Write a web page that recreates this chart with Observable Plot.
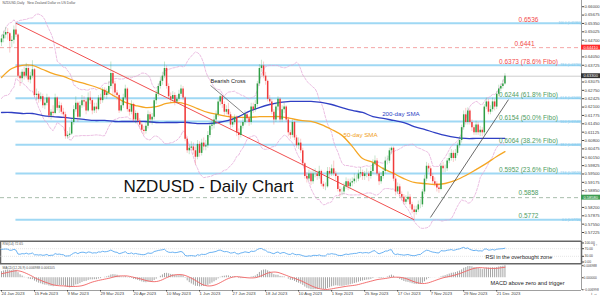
<!DOCTYPE html>
<html><head><meta charset="utf-8">
<script src="https://cdn.jsdelivr.net/npm/d3@7"></script>
<script src="https://cdn.jsdelivr.net/npm/@observablehq/plot@0.6"></script>
<style>
html,body{margin:0;padding:0;background:#fff;}
#chart{position:relative;width:600px;height:297px;overflow:hidden;background:#fff;}
#chart svg{position:absolute;left:0;display:block;}
</style></head><body><div id="chart"></div>
<script>
// ---- data ----
const preCloses = [0.6200,0.6230,0.6290,0.6380,0.6370,0.6350,0.6330,0.6360,0.6400,0.6410,0.6410,0.6470,0.6450,0.6400,0.6380,0.6370,0.6340,0.6320,0.6270,0.6280,0.6290,0.6280,0.6260,0.6310,0.6340,0.6330,0.6290,0.6320,0.6250,0.6360,0.6370,0.6350,0.6370,0.6420,0.6390,0.6380,0.6360,0.6380,0.6410,0.6460,0.6460];
const closes = [0.6475,0.6490,0.6500,0.6495,0.6465,0.6470,0.6510,0.6490,0.6330,0.6320,
0.6345,0.6330,0.6360,0.6315,0.6330,0.6355,0.6255,0.6260,0.6240,0.6250,
0.6215,0.6225,0.6245,0.6175,0.6190,0.6185,0.6245,0.6205,0.6215,0.6190,
0.6180,0.6095,0.6100,0.6105,0.6150,0.6200,0.6225,0.6170,0.6215,0.6235,
0.6230,0.6195,0.6245,0.6235,0.6195,0.6210,0.6200,0.6245,0.6235,0.6275,
0.6255,0.6265,0.6290,0.6340,0.6300,0.6265,0.6255,0.6195,0.6215,0.6245,
0.6280,0.6200,0.6190,0.6220,0.6160,0.6185,0.6155,0.6140,0.6120,0.6115,
0.6135,0.6180,0.6160,0.6170,0.6235,0.6260,0.6290,0.6310,0.6330,0.6360,
0.6290,0.6250,0.6240,0.6255,0.6230,0.6240,0.6260,0.6280,0.6245,0.6085,
0.6040,0.6050,0.6055,0.6040,0.6015,0.6065,0.6030,0.6070,0.6055,0.6060,
0.6100,0.6135,0.6140,0.6160,0.6180,0.6230,0.6250,0.6220,0.6190,0.6200,
0.6180,0.6140,0.6150,0.6170,0.6110,0.6100,0.6135,0.6150,0.6180,0.6165,
0.6150,0.6210,0.6200,0.6220,0.6300,0.6360,0.6370,0.6330,0.6310,0.6240,
0.6230,0.6190,0.6160,0.6210,0.6240,0.6160,0.6200,0.6210,0.6160,0.6110,
0.6100,0.6150,0.6090,0.6060,0.6070,0.6040,0.5990,0.5940,0.5930,0.5950,
0.5920,0.5950,0.5950,0.5940,0.5960,0.5910,0.5900,0.5900,0.5960,0.5950,
0.5970,0.5950,0.5940,0.5890,0.5880,0.5880,0.5900,0.5920,0.5900,0.5915,
0.5920,0.5930,0.5930,0.5950,0.5955,0.5940,0.5950,0.5950,0.5940,0.5960,
0.5990,0.6000,0.5950,0.5920,0.5940,0.5960,0.6000,0.6000,0.6040,0.6050,
0.5930,0.5880,0.5900,0.5870,0.5860,0.5840,0.5850,0.5860,0.5830,0.5810,
0.5800,0.5810,0.5830,0.5830,0.5880,0.5930,0.5980,0.5970,0.5940,0.5920,
0.5910,0.5895,0.5890,0.5980,0.5970,0.5970,0.6000,0.6010,0.6030,0.6010,
0.6030,0.6060,0.6080,0.6130,0.6180,0.6150,0.6195,0.6150,0.6130,0.6110,
0.6140,0.6110,0.6120,0.6110,0.6210,0.6230,0.6190,0.6200,0.6230,0.6210,
0.6260,0.6280,0.6290,0.6300,0.6330];
const highs = [0.6490,0.6505,0.6520,0.6515,0.6500,0.6485,0.6525,0.6536,0.6495,0.6345,
0.6355,0.6365,0.6380,0.6370,0.6345,0.6390,0.6360,0.6280,0.6270,0.6265,
0.6260,0.6240,0.6260,0.6250,0.6200,0.6215,0.6260,0.6250,0.6230,0.6225,
0.6205,0.6190,0.6115,0.6130,0.6165,0.6215,0.6250,0.6230,0.6230,0.6255,
0.6250,0.6240,0.6265,0.6270,0.6245,0.6225,0.6225,0.6255,0.6260,0.6285,
0.6285,0.6280,0.6310,0.6385,0.6350,0.6310,0.6275,0.6260,0.6230,0.6260,
0.6295,0.6285,0.6215,0.6235,0.6225,0.6195,0.6190,0.6165,0.6150,0.6135,
0.6150,0.6195,0.6190,0.6185,0.6245,0.6275,0.6300,0.6325,0.6345,0.6385,
0.6370,0.6300,0.6265,0.6270,0.6265,0.6255,0.6275,0.6295,0.6290,0.6250,
0.6095,0.6065,0.6075,0.6070,0.6055,0.6080,0.6075,0.6085,0.6090,0.6080,
0.6115,0.6145,0.6160,0.6175,0.6195,0.6240,0.6255,0.6255,0.6230,0.6215,
0.6225,0.6190,0.6165,0.6180,0.6175,0.6125,0.6150,0.6165,0.6195,0.6190,
0.6175,0.6225,0.6225,0.6235,0.6310,0.6375,0.6392,0.6385,0.6345,0.6315,
0.6255,0.6240,0.6200,0.6225,0.6250,0.6245,0.6215,0.6225,0.6215,0.6170,
0.6120,0.6160,0.6155,0.6100,0.6090,0.6085,0.6050,0.5995,0.5955,0.5965,
0.5960,0.5965,0.5970,0.5960,0.5980,0.5965,0.5920,0.5915,0.5975,0.5975,
0.5985,0.6000,0.5960,0.5945,0.5900,0.5895,0.5915,0.5935,0.5930,0.5930,
0.5935,0.5950,0.5945,0.5965,0.5975,0.5965,0.5960,0.5970,0.5960,0.5975,
0.6005,0.6020,0.6010,0.5960,0.5955,0.5975,0.6015,0.6020,0.6050,0.6055,
0.6055,0.5940,0.5915,0.5910,0.5880,0.5870,0.5865,0.5880,0.5870,0.5840,
0.5825,0.5825,0.5845,0.5850,0.5890,0.5945,0.5995,0.5990,0.5980,0.5950,
0.5935,0.5920,0.5910,0.5990,0.5995,0.5985,0.6010,0.6030,0.6045,0.6040,
0.6045,0.6070,0.6095,0.6140,0.6195,0.6205,0.6207,0.6200,0.6160,0.6140,
0.6155,0.6150,0.6135,0.6130,0.6220,0.6245,0.6240,0.6215,0.6245,0.6240,
0.6270,0.6295,0.6300,0.6315,0.6340];
const lows = [0.6445,0.6460,0.6475,0.6470,0.6420,0.6440,0.6455,0.6480,0.6320,0.6290,
0.6305,0.6315,0.6320,0.6305,0.6300,0.6320,0.6245,0.6235,0.6225,0.6230,
0.6205,0.6200,0.6215,0.6165,0.6160,0.6170,0.6180,0.6195,0.6185,0.6180,
0.6165,0.6085,0.6085,0.6090,0.6100,0.6140,0.6190,0.6150,0.6160,0.6205,
0.6210,0.6180,0.6190,0.6220,0.6180,0.6185,0.6185,0.6195,0.6220,0.6225,
0.6245,0.6240,0.6255,0.6280,0.6250,0.6250,0.6235,0.6185,0.6190,0.6205,
0.6235,0.6190,0.6175,0.6180,0.6150,0.6145,0.6145,0.6125,0.6110,0.6100,
0.6105,0.6125,0.6145,0.6140,0.6160,0.6220,0.6250,0.6280,0.6295,0.6320,
0.6280,0.6240,0.6225,0.6230,0.6215,0.6220,0.6230,0.6250,0.6235,0.6075,
0.6030,0.6025,0.6040,0.6025,0.5985,0.6005,0.6015,0.6020,0.6040,0.6040,
0.6050,0.6090,0.6120,0.6125,0.6145,0.6170,0.6215,0.6205,0.6175,0.6180,
0.6170,0.6125,0.6130,0.6140,0.6095,0.6080,0.6090,0.6125,0.6140,0.6150,
0.6135,0.6140,0.6185,0.6190,0.6210,0.6290,0.6345,0.6320,0.6295,0.6230,
0.6215,0.6180,0.6140,0.6150,0.6195,0.6150,0.6150,0.6185,0.6150,0.6095,
0.6085,0.6090,0.6080,0.6050,0.6045,0.6030,0.5980,0.5930,0.5915,0.5920,
0.5905,0.5910,0.5935,0.5925,0.5930,0.5900,0.5890,0.5885,0.5895,0.5935,
0.5940,0.5940,0.5925,0.5880,0.5860,0.5865,0.5870,0.5890,0.5885,0.5890,
0.5900,0.5910,0.5915,0.5920,0.5935,0.5925,0.5925,0.5935,0.5920,0.5930,
0.5950,0.5980,0.5940,0.5905,0.5910,0.5930,0.5950,0.5985,0.5990,0.6025,
0.5920,0.5865,0.5870,0.5860,0.5845,0.5830,0.5830,0.5840,0.5815,0.5795,
0.5772,0.5790,0.5800,0.5815,0.5820,0.5870,0.5920,0.5955,0.5930,0.5910,
0.5900,0.5880,0.5875,0.5885,0.5955,0.5955,0.5960,0.5990,0.6000,0.5995,
0.6000,0.6020,0.6050,0.6070,0.6120,0.6140,0.6140,0.6140,0.6115,0.6100,
0.6100,0.6100,0.6095,0.6095,0.6100,0.6200,0.6180,0.6180,0.6190,0.6195,
0.6200,0.6250,0.6270,0.6280,0.6295];
const smaBars = [0,5,10,15,20,25,30,35,40,45,50,55,60,65,70,75,80,85,90,95,100,105,110,115,120,125,130,135,140,145,150,155,160,165,170,175,180,185,190,195,200,205,210,215,220,225,230,235,240,244];
const sma50 = [0.6325,0.6360,0.6372,0.6372,0.6356,0.6340,0.6329,0.6313,0.6302,0.6290,0.6274,0.6251,0.6228,0.6216,0.6208,0.6212,0.6224,0.6228,0.6220,0.6204,0.6189,0.6181,0.6173,0.6170,0.6170,0.6173,0.6173,0.6173,0.6166,0.6158,0.6154,0.6142,0.6123,0.6100,0.6057,0.6010,0.5995,0.5971,0.5952,0.5932,0.5917,0.5913,0.5909,0.5913,0.5925,0.5944,0.5967,0.5991,0.6018,0.6037];
const sma200 = [0.6189,0.6189,0.6185,0.6185,0.6177,0.6173,0.6170,0.6166,0.6162,0.6158,0.6158,0.6154,0.6154,0.6154,0.6154,0.6150,0.6150,0.6150,0.6150,0.6146,0.6146,0.6150,0.6158,0.6173,0.6193,0.6208,0.6220,0.6228,0.6232,0.6232,0.6232,0.6228,0.6220,0.6208,0.6197,0.6189,0.6173,0.6166,0.6158,0.6150,0.6134,0.6123,0.6111,0.6100,0.6092,0.6088,0.6088,0.6088,0.6088,0.6088];
const fibLevels = [0.6536,0.6373,0.6244,0.6154,0.6064,0.5952,0.5772];
const fibPercents = ["100.0","78.6","61.8","50.0","38.2","23.6","0.0"];
const fibLabels = ["0.6536","0.6373 (78.6% Fibo)","0.6244 (61.8% Fibo)","0.6154 (50.0% Fibo)","0.6064 (38.2% Fibo)","0.5952 (23.6% Fibo)","0.5772"];
const keyLevels = [0.6441, 0.5858];
const priceTicks = [0.66000,0.65675,0.65350,0.65025,0.64700,0.64375,0.64050,0.63725,0.63400,0.63075,0.62750,0.62425,0.62100,0.61775,0.61450,0.61125,0.60800,0.60475,0.60150,0.59825,0.59500,0.59175,0.58850,0.58525,0.58200,0.57875,0.57550,0.57225];
const labelBars = [0,16,32,48,64,80,96,112,128,144,160,176,192,208,224,240];
const dateLabels = ["24 Jan 2023","15 Feb 2023","9 Mar 2023","29 Mar 2023","20 Apr 2023","10 May 2023","1 Jun 2023","27 Jun 2023","18 Jul 2023","10 Aug 2023","1 Sep 2023","25 Sep 2023","17 Oct 2023","7 Nov 2023","29 Nov 2023","21 Dec 2023"];
const rsiTicks = [100,70,30,0];

// ---- derived ----
const FONT = "'Liberation Sans', Arial, Helvetica, sans-serif";
const XD = [-0.485, 281.1];
const RED = "#f24a4a", GREEN = "#4e9c62", UP = "#2f9e44", DOWN = "#f03a3a";
const N = closes.length;
const last = closes[N - 1];
const bars = closes.map((c, i) => ({i, o: i ? closes[i - 1] : preCloses[preCloses.length - 1], c, h: highs[i], l: lows[i]}));
const up = bars.filter(d => d.c >= d.o), down = bars.filter(d => d.c < d.o);
const all = preCloses.concat(closes), off = preCloses.length;
const bb = closes.map((c, i) => {
  const k = i + off, w = all.slice(k - 19, k + 1), m = d3.mean(w);
  const sd = Math.sqrt(d3.mean(w, v => (v - m) ** 2));
  return {i, u: m + 2 * sd, l: m - 2 * sd};
});
function rsiCalc(v, n) {
  const out = new Array(v.length).fill(NaN); let g = 0, l = 0;
  for (let k = 1; k <= n; k++) { const d = v[k] - v[k - 1]; if (d > 0) g += d; else l -= d; }
  g /= n; l /= n; out[n] = 100 - 100 / (1 + g / l);
  for (let k = n + 1; k < v.length; k++) {
    const d = v[k] - v[k - 1];
    g = (g * (n - 1) + Math.max(d, 0)) / n; l = (l * (n - 1) + Math.max(-d, 0)) / n;
    out[k] = l === 0 ? 100 : 100 - 100 / (1 + g / l);
  }
  return out;
}
function ema(v, n) { const a = 2 / (n + 1), out = [v[0]]; for (let k = 1; k < v.length; k++) out.push(v[k] * a + out[k - 1] * (1 - a)); return out; }
const rsiAll = rsiCalc(all, 14);
const rsi = closes.map((c, i) => ({i, v: rsiAll[i + off]}));
const e12 = ema(all, 12), e26 = ema(all, 26);
const macdAll = all.map((_, k) => e12[k] - e26[k]);
const sigAll = macdAll.map((_, k) => k < 8 ? NaN : d3.mean(macdAll.slice(k - 8, k + 1)));
const macd = closes.map((c, i) => ({i, m: macdAll[i + off], s: sigAll[i + off]}));
const ext = d3.extent(macd.flatMap(d => [d.m, d.s]));
const span = ext[1] - ext[0];
const mDom = [ext[0] - span * 0.03, ext[1] + span * 0.03];
const hiBar = highs.indexOf(d3.max(highs)), loBar = lows.indexOf(d3.min(lows));
const fib = fibLevels.map((v, k) => ({v, label: fibLabels[k], pct: fibPercents[k]}));
const sma = smaBars.map((b, k) => ({b, s50: sma50[k], s200: sma200[k]}));
const f5 = d3.format(".5f"), f4 = d3.format(".4f");
const boxLevels = [keyLevels[0], last, keyLevels[1]];
const axisTicks = priceTicks.filter(t => boxLevels.every(b => Math.abs(t - b) > 0.0017));

const base = {width: 600, marginLeft: 0, marginRight: 19, x: {domain: XD, axis: null}};
const styleOf = fs => ({background: "transparent", fontFamily: FONT, fontSize: fs, overflow: "visible", color: "#333"});

// ---- price panel ----
const price = Plot.plot({
  ...base, height: 240, marginTop: 0, marginBottom: 0,
  style: styleOf("4.2px"),
  y: {domain: [0.66242 - 240 / 2573, 0.66242]},
  marks: [
    Plot.ruleY(fib, {y: "v", x1: hiBar, x2: XD[1], stroke: "#9fd8f4", strokeWidth: 2}),
    Plot.ruleY([keyLevels[0]], {stroke: "#f19090", strokeDasharray: "4,3", strokeWidth: 0.8}),
    Plot.ruleY([keyLevels[1]], {stroke: "#93ad98", strokeDasharray: "4,3", strokeWidth: 0.8}),
    Plot.ruleY([last], {stroke: "#b8b8b8", strokeWidth: 0.7}),
    Plot.ruleX([XD[1]], {stroke: "#888", strokeWidth: 0.8}),
    Plot.lineY(bb, {x: "i", y: "u", stroke: "#e2a2d6", strokeWidth: 0.7, strokeDasharray: "2.5,1.5"}),
    Plot.lineY(bb, {x: "i", y: "l", stroke: "#e2a2d6", strokeWidth: 0.7, strokeDasharray: "2.5,1.5"}),
    Plot.line(sma, {x: "b", y: "s50", stroke: "#f5a623", strokeWidth: 1.3, curve: "catmull-rom"}),
    Plot.line(sma, {x: "b", y: "s200", stroke: "#2f3fc4", strokeWidth: 1.3, curve: "catmull-rom"}),
    Plot.link([0], {x1: hiBar, y1: highs[hiBar], x2: loBar, y2: lows[loBar], stroke: "#f05050", strokeWidth: 1}),
    Plot.link([0], {x1: 207.9, y1: 0.5781, x2: 245.7, y2: 0.6239, stroke: "#444", strokeWidth: 0.8}),
    Plot.link([0], {x1: 101.3, y1: 0.6294, x2: 119.2, y2: 0.6173, stroke: "#333", strokeWidth: 0.6}),
    Plot.ruleX(up, {x: "i", y1: "l", y2: "h", stroke: UP, strokeOpacity: 0.45, strokeWidth: 0.6}),
    Plot.ruleX(down, {x: "i", y1: "l", y2: "h", stroke: DOWN, strokeOpacity: 0.45, strokeWidth: 0.6}),
    Plot.ruleX(up, {x: "i", y1: "o", y2: "c", stroke: UP, strokeWidth: 1.5}),
    Plot.ruleX(down, {x: "i", y1: "o", y2: "c", stroke: DOWN, strokeWidth: 1.5}),
    Plot.axisY({ticks: axisTicks, anchor: "right", tickFormat: f5, tickSize: 2, tickPadding: 1, fontSize: 4.2, color: "#444"}),
    Plot.text(fib.filter(d => d.v > last), {x: 255.4, y: d => d.v + 0.0006, text: "label", fill: RED, fontSize: 6.5, textAnchor: "middle", lineAnchor: "bottom"}),
    Plot.text(fib.filter(d => d.v <= last), {x: 255.4, y: d => d.v + 0.0006, text: "label", fill: GREEN, fontSize: 6.5, textAnchor: "middle", lineAnchor: "bottom"}),
    Plot.text([keyLevels[0]], {x: 253.5, y: d => d + 0.0006, text: f4, fill: RED, fontSize: 6.5, textAnchor: "middle", lineAnchor: "bottom"}),
    Plot.text([keyLevels[1]], {x: 255.4, y: d => d + 0.0010, text: f4, fill: GREEN, fontSize: 6.5, textAnchor: "middle", lineAnchor: "bottom"}),
    Plot.text(fib, {x: 280.9, y: "v", text: d => d.pct + " (" + f5(d.v) + ")", fill: "#78c6ec", fontSize: 3.2, textAnchor: "end", lineAnchor: "middle"}),
    Plot.rect([keyLevels[0]], {x1: XD[1], x2: 291, y1: d => d - 0.00095, y2: d => d + 0.00095, fill: "#ff2a2a"}),
    Plot.rect([last], {x1: XD[1], x2: 291, y1: d => d - 0.00095, y2: d => d + 0.00095, fill: "#333"}),
    Plot.rect([keyLevels[1]], {x1: XD[1], x2: 291, y1: d => d - 0.00095, y2: d => d + 0.00095, fill: "#3d9c52"}),
    Plot.text(boxLevels, {x: XD[1], dx: 2, y: d => d, text: f5, fill: "white", fontSize: 4, textAnchor: "start", lineAnchor: "middle"}),
    Plot.text(["NZDUSD - Daily Chart"], {x: 59.1, y: 0.5878, text: d => d, fontSize: 17, fill: "#111", textAnchor: "start", lineAnchor: "bottom"}),
    Plot.text(["Bearish Cross"], {x: 101.3, y: 0.6302, text: d => d, fontSize: 5.6, fill: "#222", textAnchor: "start", lineAnchor: "bottom"}),
    Plot.text(["200-day SMA"], {x: 184.5, y: 0.6177, text: d => d, fontSize: 6.2, fill: "#2f3fc4", textAnchor: "start", lineAnchor: "bottom"}),
    Plot.text(["50-day SMA"], {x: 165.8, y: 0.6092, text: d => d, fontSize: 6.2, fill: "#f0a020", textAnchor: "start", lineAnchor: "bottom"}),
    Plot.text(["NZDUSD,Daily   New Zealand Dollar vs US Dollar"], {frameAnchor: "top-left", dx: 2, dy: 1.5, text: d => d, fontSize: 3.3, fill: "#555", textAnchor: "start", lineAnchor: "top"})
  ]
});

// ---- RSI panel ----
const rsiPlot = Plot.plot({
  ...base, height: 24, marginTop: 0.75, marginBottom: 0.75,
  style: styleOf("3.4px"),
  y: {domain: [-9.2, 109.2]},
  marks: [
    Plot.frame({stroke: "#666", strokeWidth: 1.5}),
    Plot.ruleY([70, 30], {stroke: "#c8c8c8", strokeDasharray: "1,1", strokeWidth: 0.5}),
    Plot.lineY(rsi, {x: "i", y: "v", stroke: "#5aa9f0", strokeWidth: 0.9}),
    Plot.axisY({ticks: rsiTicks, anchor: "right", tickFormat: d3.format(".2f"), tickSize: 2, tickPadding: 1, fontSize: 3.4, color: "#444"}),
    Plot.text(["RSI in the overbought zone"], {x: 234.6, y: 15.8, text: d => d, fontSize: 5.5, fill: "#222", textAnchor: "start", lineAnchor: "bottom"}),
    Plot.text(["RSI(14) " + d3.format(".2f")(rsi[N - 1].v)], {frameAnchor: "top-left", dx: 2, dy: 1.5, text: d => d, fontSize: 3.3, fill: "#555", textAnchor: "start", lineAnchor: "top"})
  ]
});

// ---- MACD panel ----
const macdPlot = Plot.plot({
  ...base, height: 33, marginTop: 0.5, marginBottom: 7,
  style: styleOf("4.2px"),
  y: {domain: mDom},
  marks: [
    Plot.ruleX(macd, {x: "i", y1: 0, y2: "m", stroke: "#9a9a9a", strokeWidth: 0.9}),
    Plot.lineY(macd.filter(d => !isNaN(d.s)), {x: "i", y: "s", stroke: "#f06262", strokeWidth: 0.9}),
    Plot.ruleY([mDom[0]], {stroke: "#888", strokeWidth: 0.8}),
    Plot.ruleX([XD[1]], {stroke: "#888", strokeWidth: 0.8}),
    Plot.axisY({ticks: [ext[1], 0, ext[0]], anchor: "right", tickFormat: d3.format(".6f"), tickSize: 1.5, tickPadding: 0.5, fontSize: 3.2, color: "#444"}),
    Plot.axisX({ticks: labelBars, anchor: "bottom", tickFormat: d => dateLabels[labelBars.indexOf(d)], textAnchor: "start", tickSize: 1.5, tickPadding: 0.5, fontSize: 4.2, color: "#444"}),
    Plot.text(["MACD above zero and trigger"], {x: 237.0, frameAnchor: "bottom", dy: -5.5, text: d => d, fontSize: 5.6, fill: "#222", textAnchor: "start", lineAnchor: "bottom"}),
    Plot.text(["MACD(12,26,9) " + d3.format(".6f")(macd[N - 1].m) + " " + d3.format(".6f")(macd[N - 1].s)], {frameAnchor: "top-left", dx: 2, dy: 1.5, text: d => d, fontSize: 3.3, fill: "#555", textAnchor: "start", lineAnchor: "top"})
  ]
});

const host = document.getElementById("chart");
[[price, 0], [rsiPlot, 240], [macdPlot, 264]].forEach(([svg, top]) => { svg.style.top = top + "px"; host.appendChild(svg); });
</script></body></html>
